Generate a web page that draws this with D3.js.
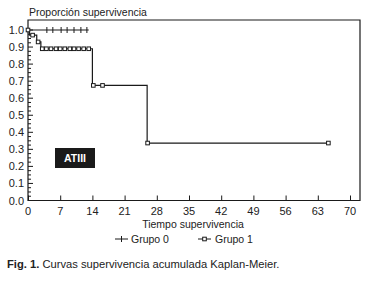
<!DOCTYPE html>
<html><head><meta charset="utf-8">
<script src="https://cdn.jsdelivr.net/npm/d3@7"></script>
<style>body{margin:0;background:#fff}svg{display:block}text{font-family:"Liberation Sans",Arial,sans-serif;fill:#222}</style>
</head><body>
<svg id="c" width="373" height="287"></svg>
<script>
// ---- data ----
const xTicks = [0, 7, 14, 21, 28, 35, 42, 49, 56, 63, 70];
const yTicks = [0.0, 0.1, 0.2, 0.3, 0.4, 0.5, 0.6, 0.7, 0.8, 0.9, 1.0];
const group0Steps = [[0, 1.0], [13.2, 1.0]];
const group0Censored = [4.1, 5.4, 7.2, 8.5, 10.0, 11.5, 12.8];
const group1Steps = [[0, 1.0], [0.3, 0.97], [1.9, 0.93], [2.8, 0.89], [14.0, 0.675], [25.9, 0.337], [65.3, 0.337]];
const group1CensoredTimes = [0.0, 1.0, 2.2, 3.1, 4.0, 5.0, 6.1, 7.0, 8.0, 9.1, 10.0, 11.0, 12.1, 13.2, 14.2, 16.2, 26.0, 65.3];
const group1CensoredSurv = [1.0, 0.97, 0.93, 0.89, 0.89, 0.89, 0.89, 0.89, 0.89, 0.89, 0.89, 0.89, 0.89, 0.89, 0.675, 0.675, 0.337, 0.337];
const legendLabels = ["Grupo 0", "Grupo 1"];

const svg = d3.select("#c");
const x = d3.scaleLinear().domain([0, 70]).range([28, 350]);
const y = d3.scaleLinear().domain([0, 1]).range([200.5, 30]);
const X1 = 360, Y0 = 20;
const ink = "#1a1a1a";

// frame
svg.append("path").attr("d", `M${x(0)},${Y0}H${X1}V${y(0)}H${x(0)}Z`)
  .attr("fill", "none").attr("stroke", ink).attr("stroke-width", 1.2);

// x axis ticks (inside)
const xa = d3.axisTop(x).tickValues(xTicks).tickSize(5).tickFormat("");
const gx = svg.append("g").attr("transform", `translate(0,${y(0)})`).call(xa);
gx.select(".domain").remove();
gx.selectAll("line").attr("stroke", ink).attr("stroke-width", 1);
svg.append("g").selectAll("text").data(xTicks).join("text")
  .attr("x", d => x(d)).attr("y", 215).attr("text-anchor", "middle")
  .attr("font-size", 11).text(d => d);

// y axis ticks (inside) major + minor
const minor = d3.range(0, 41).map(i => i * 0.025);
svg.append("g").selectAll("line").data(minor).join("line")
  .attr("x1", x(0)).attr("x2", (d, i) => x(0) + (i % 4 === 0 ? 5 : 3))
  .attr("y1", d => y(d)).attr("y2", d => y(d)).attr("stroke", ink).attr("stroke-width", 1);
svg.append("g").selectAll("text").data(yTicks).join("text")
  .attr("x", 24).attr("y", d => y(d) + 4).attr("text-anchor", "end")
  .attr("font-size", 11).text(d => d.toFixed(1));

// titles
svg.append("text").attr("x", 29).attr("y", 16).attr("font-size", 10.5).text("Proporción supervivencia");
svg.append("text").attr("x", 193).attr("y", 228).attr("text-anchor", "middle").attr("font-size", 10.5).text("Tiempo supervivencia");

// curves
const step = d3.line().x(d => x(d[0])).y(d => y(d[1])).curve(d3.curveStepAfter);
svg.append("path").attr("d", step(group0Steps)).attr("fill", "none").attr("stroke", ink).attr("stroke-width", 1.2);
svg.append("path").attr("d", step(group1Steps)).attr("fill", "none").attr("stroke", ink).attr("stroke-width", 1.2);

svg.append("g").selectAll("line").data(group0Censored).join("line")
  .attr("x1", d => x(d)).attr("x2", d => x(d)).attr("y1", y(1) - 3).attr("y2", y(1) + 3)
  .attr("stroke", ink).attr("stroke-width", 1);

svg.append("g").selectAll("rect").data(group1CensoredTimes).join("rect")
  .attr("x", d => x(d) - 1.8).attr("y", (d, i) => y(group1CensoredSurv[i]) - 1.8)
  .attr("width", 3.6).attr("height", 3.6).attr("fill", "#fff").attr("stroke", ink).attr("stroke-width", 1);

// ATIII box
svg.append("rect").attr("x", 55).attr("y", 148).attr("width", 40).attr("height", 20).attr("fill", "#1a1a1a");
svg.append("text").attr("x", 75).attr("y", 162).attr("text-anchor", "middle").attr("font-size", 10.5)
  .attr("font-weight", "bold").style("fill", "#fff").text("ATIII");

// legend
const lg = svg.append("g");
const ly = 239;
lg.append("line").attr("x1", 115).attr("x2", 128).attr("y1", ly).attr("y2", ly).attr("stroke", ink);
lg.append("line").attr("x1", 121.5).attr("x2", 121.5).attr("y1", ly - 3).attr("y2", ly + 3).attr("stroke", ink);
lg.append("text").attr("x", 131).attr("y", ly + 4).attr("font-size", 10.5).text(legendLabels[0]);
lg.append("line").attr("x1", 198).attr("x2", 211).attr("y1", ly).attr("y2", ly).attr("stroke", ink);
lg.append("rect").attr("x", 202.7).attr("y", ly - 1.8).attr("width", 3.6).attr("height", 3.6).attr("fill", "#fff").attr("stroke", ink);
lg.append("text").attr("x", 215).attr("y", ly + 4).attr("font-size", 10.5).text(legendLabels[1]);

// caption
const cap = svg.append("text").attr("x", 7).attr("y", 268).attr("font-size", 11.2);
cap.append("tspan").attr("font-weight", "bold").text("Fig. 1.");
cap.append("tspan").text(" Curvas supervivencia acumulada Kaplan-Meier.");
</script>
</body></html>
